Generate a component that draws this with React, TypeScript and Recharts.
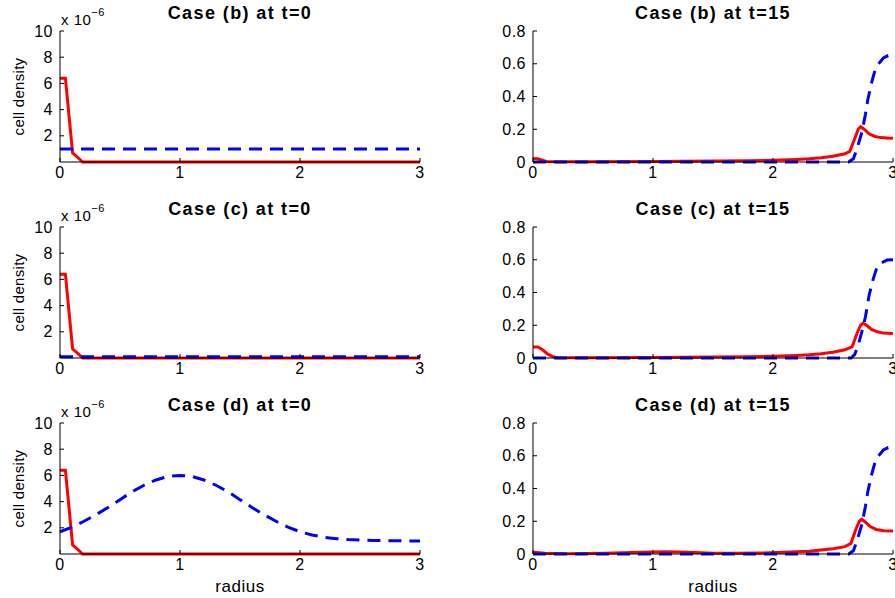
import React from 'react';
import { LineChart, Line, XAxis, YAxis } from 'recharts';

const FONT = '"Liberation Sans", Arial, Helvetica, sans-serif';

const RADIUS_TICKS = [0, 1, 2, 3];
const T0_TICKS = [2, 4, 6, 8, 10]; // in units of 1e-6
const T15_TICKS = [0, 0.2, 0.4, 0.6, 0.8];

// t = 0, values x 1e-6
const t0RedR = [0, 0.045, 0.105, 0.19, 3];
const t0Red = [6.4, 6.4, 0.7, 0, 0];
const flatR = [0, 3];
const bBlue0 = [1, 1];
const cBlue0 = [0.1, 0.1];
const dBlueR0 = [0, 0.1, 0.2, 0.3, 0.4, 0.5, 0.6, 0.7, 0.8, 0.9, 1, 1.1, 1.2, 1.3, 1.4, 1.5,
  1.6, 1.7, 1.8, 1.9, 2, 2.1, 2.2, 2.3, 2.4, 2.5, 2.6, 2.7, 2.8, 2.9, 3];
const dBlue0 = [1.7, 2.05, 2.5, 3.0, 3.55, 4.15, 4.75, 5.25, 5.65, 5.92, 6.0, 5.92, 5.65, 5.25,
  4.75, 4.15, 3.55, 3.0, 2.5, 2.05, 1.7, 1.45, 1.28, 1.17, 1.1, 1.06, 1.03, 1.02, 1.01, 1.0, 1.0];

// t = 15
const bRedR15 = [0, 0.04, 0.11, 0.2, 0.5, 1, 1.5, 1.8, 2, 2.2, 2.3, 2.4, 2.5, 2.6, 2.64, 2.68,
  2.71, 2.73, 2.76, 2.8, 2.85, 2.9, 2.95, 3];
const bRed15 = [0.022, 0.02, 0.003, 0.001, 0.001, 0.003, 0.006, 0.008, 0.011, 0.016, 0.02,
  0.026, 0.035, 0.05, 0.065, 0.14, 0.2, 0.215, 0.2, 0.172, 0.156, 0.149, 0.146, 0.145];
const cRedR15 = [0, 0.04, 0.08, 0.12, 0.16, 0.2, 0.5, 1, 1.5, 1.8, 2, 2.2, 2.3, 2.4, 2.5, 2.6,
  2.66, 2.7, 2.73, 2.75, 2.78, 2.82, 2.87, 2.92, 3];
const cRed15 = [0.067, 0.067, 0.05, 0.025, 0.01, 0.002, 0.001, 0.003, 0.006, 0.008, 0.011,
  0.016, 0.02, 0.026, 0.035, 0.05, 0.07, 0.15, 0.2, 0.212, 0.2, 0.175, 0.16, 0.152, 0.15];
const dRedR15 = [0, 0.1, 0.3, 0.6, 0.9, 1.1, 1.3, 1.5, 1.7, 1.9, 2.1, 2.3, 2.5, 2.6, 2.65,
  2.69, 2.72, 2.74, 2.77, 2.81, 2.86, 2.92, 3];
const dRed15 = [0.01, 0.004, 0.002, 0.004, 0.01, 0.014, 0.01, 0.005, 0.004, 0.006, 0.01,
  0.017, 0.032, 0.045, 0.065, 0.15, 0.2, 0.212, 0.195, 0.168, 0.15, 0.142, 0.14];
const bBlueR15 = [0, 2.63, 2.67, 2.7, 2.74, 2.77, 2.79, 2.82, 2.85, 2.88, 2.92, 2.96, 3];
const bBlue15 = [0, 0, 0.02, 0.08, 0.18, 0.29, 0.38, 0.48, 0.56, 0.6, 0.635, 0.65, 0.655];
const cBlueR15 = [0, 2.65, 2.68, 2.71, 2.74, 2.77, 2.8, 2.83, 2.86, 2.9, 2.95, 3];
const cBlue15 = [0, 0, 0.02, 0.08, 0.16, 0.25, 0.38, 0.47, 0.54, 0.58, 0.598, 0.6];

const toPoints = (r: number[], v: number[]) => r.map((x, i) => ({ r: x, v: v[i] }));

const PLOT_W = 360;
const PLOT_H = 131;
const COL_X = [60, 533];
const ROW_Y = [31, 227, 423];

const axisStyle = { stroke: '#000', strokeWidth: 1 };
const tickStyle = { fill: '#000', fontSize: 16, fontFamily: FONT, letterSpacing: 0.5 };

interface PanelProps {
  x: number;
  y: number;
  red: { r: number; v: number }[];
  blue: { r: number; v: number }[];
  early: boolean;
}

const Panel = ({ x, y, red, blue, early }: PanelProps) => (
  <div style={{ position: 'absolute', left: x - 50, top: y - 10 }}>
    <LineChart width={PLOT_W + 60} height={PLOT_H + 40} margin={{ top: 10, right: 10, left: 0, bottom: 0 }}>
      <XAxis
        dataKey="r"
        type="number"
        domain={[0, 3]}
        ticks={RADIUS_TICKS}
        interval={0}
        height={30}
        tickSize={-4}
        tickMargin={9}
        axisLine={axisStyle}
        tickLine={axisStyle}
        tick={tickStyle}
      />
      <XAxis
        xAxisId="top"
        orientation="top"
        type="number"
        domain={[0, 3]}
        allowDataOverflow
        ticks={RADIUS_TICKS}
        interval={0}
        height={0}
        tickSize={-4}
        axisLine={axisStyle}
        tickLine={axisStyle}
        tick={false}
      />
      <YAxis
        type="number"
        domain={early ? [0, 10] : [0, 0.8]}
        ticks={early ? T0_TICKS : T15_TICKS}
        interval={0}
        width={50}
        tickSize={-4}
        tickMargin={11}
        axisLine={axisStyle}
        tickLine={axisStyle}
        tick={tickStyle}
        tickFormatter={(v: number) => String(v)}
      />
      <YAxis
        yAxisId="right"
        orientation="right"
        type="number"
        domain={early ? [0, 10] : [0, 0.8]}
        allowDataOverflow
        ticks={early ? T0_TICKS : T15_TICKS}
        interval={0}
        width={0}
        tickSize={-4}
        axisLine={axisStyle}
        tickLine={axisStyle}
        tick={false}
      />
      <Line data={red} dataKey="v" stroke="#ff0000" strokeWidth={3} dot={false} isAnimationActive={false} />
      <Line data={blue} dataKey="v" stroke="#0000ff" strokeWidth={3} strokeDasharray="13 8" dot={false} isAnimationActive={false} />
    </LineChart>
  </div>
);

const panels = [
  { title: 'Case (b) at t=0', red: toPoints(t0RedR, t0Red), blue: toPoints(flatR, bBlue0), early: true },
  { title: 'Case (b) at t=15', red: toPoints(bRedR15, bRed15), blue: toPoints(bBlueR15, bBlue15), early: false },
  { title: 'Case (c) at t=0', red: toPoints(t0RedR, t0Red), blue: toPoints(flatR, cBlue0), early: true },
  { title: 'Case (c) at t=15', red: toPoints(cRedR15, cRed15), blue: toPoints(cBlueR15, cBlue15), early: false },
  { title: 'Case (d) at t=0', red: toPoints(t0RedR, t0Red), blue: toPoints(dBlueR0, dBlue0), early: true },
  { title: 'Case (d) at t=15', red: toPoints(dRedR15, dRed15), blue: toPoints(bBlueR15, bBlue15), early: false },
];

export default function App() {
  return (
    <div style={{ position: 'absolute', left: 0, top: 0, width: 895, height: 598, overflow: 'hidden', background: '#fff' }}>
      {panels.map((p, i) => (
        <Panel key={i} x={COL_X[i % 2]} y={ROW_Y[Math.floor(i / 2)]} red={p.red} blue={p.blue} early={p.early} />
      ))}
      <svg width={895} height={598} style={{ position: 'absolute', left: 0, top: 0, pointerEvents: 'none' }} fontFamily={FONT}>
        {panels.map((p, i) => {
          const px = COL_X[i % 2];
          const py = ROW_Y[Math.floor(i / 2)];
          return (
            <g key={i}>
              <text x={px + PLOT_W / 2} y={py - 12} textAnchor="middle" fontSize={18} fontWeight="bold" letterSpacing={1.4} fill="#000">
                {p.title}
              </text>
              {p.early && (
                <>
                  <text x={px + 1} y={py - 6} fontSize={15} letterSpacing={0.5} fill="#000">
                    x 10<tspan fontSize={11} dy={-9}>−6</tspan>
                  </text>
                  <text
                    x={24}
                    y={py + PLOT_H / 2}
                    transform={`rotate(-90 24 ${py + PLOT_H / 2})`}
                    textAnchor="middle"
                    fontSize={15}
                    letterSpacing={0.3}
                    fill="#000"
                  >
                    cell density
                  </text>
                </>
              )}
            </g>
          );
        })}
        {COL_X.map((cx, i) => (
          <text key={i} x={cx + PLOT_W / 2} y={592} textAnchor="middle" fontSize={17} letterSpacing={0.5} fill="#000">
            radius
          </text>
        ))}
      </svg>
    </div>
  );
}
